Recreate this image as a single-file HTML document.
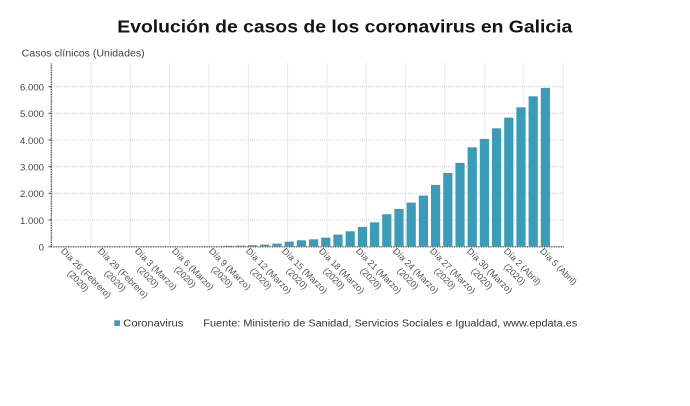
<!DOCTYPE html>
<html>
<head>
<meta charset="utf-8">
<style>
html,body{margin:0;padding:0;background:#fff;}
#wrap{position:relative;width:690px;height:406px;overflow:hidden;background:#fff;font-family:"Liberation Sans",Arial,sans-serif;}
svg{position:absolute;left:0;top:0;}
.lb{position:absolute;font-size:9px;line-height:11.3px;color:#555;text-align:center;white-space:nowrap;transform-origin:0 0;transform:rotate(45deg);}
</style>
</head>
<body>
<div id="wrap">
<svg width="690" height="406" viewBox="0 0 690 406" xmlns="http://www.w3.org/2000/svg">
  <text x="117.3" y="32.7" font-family="Liberation Sans, Arial, sans-serif" font-size="17.5" font-weight="bold" fill="#141414" textLength="455" lengthAdjust="spacingAndGlyphs">Evolución de casos de los coronavirus en Galicia</text>
  <text x="21.7" y="56.5" font-family="Liberation Sans, Arial, sans-serif" font-size="10" fill="#444" textLength="123" lengthAdjust="spacingAndGlyphs">Casos clínicos (Unidades)</text>

  <!-- horizontal gridlines -->
  <g stroke="#cfcfcf" stroke-width="1" stroke-dasharray="1,1">
    <line x1="52" y1="86.7" x2="563.5" y2="86.7"/>
    <line x1="52" y1="113.3" x2="563.5" y2="113.3"/>
    <line x1="52" y1="140" x2="563.5" y2="140"/>
    <line x1="52" y1="166.7" x2="563.5" y2="166.7"/>
    <line x1="52" y1="193.3" x2="563.5" y2="193.3"/>
    <line x1="52" y1="220" x2="563.5" y2="220"/>
  </g>
  <!-- vertical gridlines -->
  <g stroke="#d3d3d3" stroke-width="1" stroke-dasharray="1,1">
    <line x1="90.85" y1="63.5" x2="90.85" y2="246.7"/>
    <line x1="130.2" y1="63.5" x2="130.2" y2="246.7"/>
    <line x1="169.55" y1="63.5" x2="169.55" y2="246.7"/>
    <line x1="208.9" y1="63.5" x2="208.9" y2="246.7"/>
    <line x1="248.25" y1="63.5" x2="248.25" y2="246.7"/>
    <line x1="287.6" y1="63.5" x2="287.6" y2="246.7"/>
    <line x1="326.95" y1="63.5" x2="326.95" y2="246.7"/>
    <line x1="366.3" y1="63.5" x2="366.3" y2="246.7"/>
    <line x1="405.65" y1="63.5" x2="405.65" y2="246.7"/>
    <line x1="445" y1="63.5" x2="445" y2="246.7"/>
    <line x1="484.35" y1="63.5" x2="484.35" y2="246.7"/>
    <line x1="523.7" y1="63.5" x2="523.7" y2="246.7"/>
    <line x1="563.05" y1="63.5" x2="563.05" y2="246.7"/>
  </g>

  <!-- bars -->
  <g fill="#3b9cba">
    <rect x="223.6" y="245.8" width="9.2" height="0.5"/>
    <rect x="235.8" y="245.6" width="9.2" height="0.7"/>
    <rect x="248" y="245.2" width="9.2" height="1.1"/>
    <rect x="260.2" y="244.6" width="9.2" height="1.7"/>
    <rect x="272.4" y="243.6" width="9.2" height="2.7"/>
    <rect x="284.6" y="241.6" width="9.2" height="4.7"/>
    <rect x="296.8" y="240.3" width="9.2" height="6"/>
    <rect x="309" y="239.3" width="9.2" height="7"/>
    <rect x="321.2" y="237.6" width="9.2" height="8.7"/>
    <rect x="333.4" y="234.6" width="9.2" height="11.7"/>
    <rect x="345.6" y="231.3" width="9.2" height="15"/>
    <rect x="357.8" y="226.9" width="9.2" height="19.4"/>
    <rect x="370" y="222.3" width="9.2" height="24"/>
    <rect x="382.2" y="214.3" width="9.2" height="32"/>
    <rect x="394.4" y="208.9" width="9.2" height="37.4"/>
    <rect x="406.6" y="202.6" width="9.2" height="43.7"/>
    <rect x="418.8" y="195.6" width="9.2" height="50.7"/>
    <rect x="431" y="184.9" width="9.2" height="61.4"/>
    <rect x="443.2" y="172.9" width="9.2" height="73.4"/>
    <rect x="455.4" y="162.9" width="9.2" height="83.4"/>
    <rect x="467.6" y="147.3" width="9.2" height="99"/>
    <rect x="479.8" y="138.9" width="9.2" height="107.4"/>
    <rect x="492" y="128.3" width="9.2" height="118"/>
    <rect x="504.2" y="117.6" width="9.2" height="128.7"/>
    <rect x="516.4" y="107.3" width="9.2" height="139"/>
    <rect x="528.6" y="96.3" width="9.2" height="150"/>
    <rect x="540.8" y="87.9" width="9.2" height="158.4"/>
  </g>

  <!-- axes -->
  <g stroke="#333" stroke-width="1.2" stroke-dasharray="1,0.7">
    <line x1="51.3" y1="63.5" x2="51.3" y2="247.2"/>
    <line x1="51" y1="246.8" x2="564" y2="246.8"/>
  </g>
  <g stroke="#444" stroke-width="1">
    <line x1="48.5" y1="86.7" x2="51.5" y2="86.7"/>
    <line x1="48.5" y1="113.3" x2="51.5" y2="113.3"/>
    <line x1="48.5" y1="140" x2="51.5" y2="140"/>
    <line x1="48.5" y1="166.7" x2="51.5" y2="166.7"/>
    <line x1="48.5" y1="193.3" x2="51.5" y2="193.3"/>
    <line x1="48.5" y1="220" x2="51.5" y2="220"/>
    <line x1="48.5" y1="246.7" x2="51.5" y2="246.7"/>
  </g>

  <!-- y tick labels -->
  <g font-family="Liberation Sans, Arial, sans-serif" font-size="9.6" fill="#444" text-anchor="end">
    <text x="44" y="90.5">6.000</text>
    <text x="44" y="117.1">5.000</text>
    <text x="44" y="143.8">4.000</text>
    <text x="44" y="170.5">3.000</text>
    <text x="44" y="197.1">2.000</text>
    <text x="44" y="223.8">1.000</text>
    <text x="44" y="250.5">0</text>
  </g>

  <!-- legend -->
  <rect x="114.3" y="320.3" width="5.6" height="5.6" fill="#3b9cba"/>
  <text x="123.3" y="326.3" font-family="Liberation Sans, Arial, sans-serif" font-size="10" fill="#333" textLength="60" lengthAdjust="spacingAndGlyphs">Coronavirus</text>
  <text x="203.3" y="326.3" font-family="Liberation Sans, Arial, sans-serif" font-size="10" fill="#333" textLength="374" lengthAdjust="spacingAndGlyphs">Fuente: Ministerio de Sanidad, Servicios Sociales e Igualdad, www.epdata.es</text>
</svg>

<!-- x labels: baseline start (60 + 36.87k, 252.5); div origin = +6.15, -6.15 -->
<div class="lb" style="left:66.15px;top:246.35px;">Día 26 (Febrero)<br>(2020)</div>
<div class="lb" style="left:103.02px;top:246.35px;">Día 29 (Febrero)<br>(2020)</div>
<div class="lb" style="left:139.89px;top:246.35px;">Día 3 (Marzo)<br>(2020)</div>
<div class="lb" style="left:176.76px;top:246.35px;">Día 6 (Marzo)<br>(2020)</div>
<div class="lb" style="left:213.63px;top:246.35px;">Día 9 (Marzo)<br>(2020)</div>
<div class="lb" style="left:250.5px;top:246.35px;">Día 12 (Marzo)<br>(2020)</div>
<div class="lb" style="left:287.37px;top:246.35px;">Día 15 (Marzo)<br>(2020)</div>
<div class="lb" style="left:324.24px;top:246.35px;">Día 18 (Marzo)<br>(2020)</div>
<div class="lb" style="left:361.11px;top:246.35px;">Día 21 (Marzo)<br>(2020)</div>
<div class="lb" style="left:397.98px;top:246.35px;">Día 24 (Marzo)<br>(2020)</div>
<div class="lb" style="left:434.85px;top:246.35px;">Día 27 (Marzo)<br>(2020)</div>
<div class="lb" style="left:471.72px;top:246.35px;">Día 30 (Marzo)<br>(2020)</div>
<div class="lb" style="left:508.59px;top:246.35px;">Día 2 (Abril)<br>(2020)</div>
<div class="lb" style="left:545.46px;top:246.35px;">Día 5 (Abril)</div>
</div>
</body>
</html>
